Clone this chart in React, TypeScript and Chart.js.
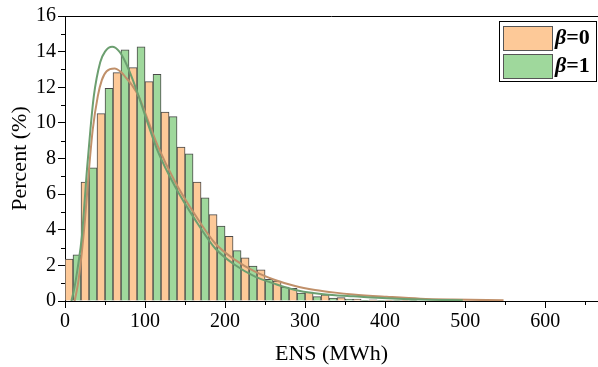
import React, { useEffect, useRef } from 'react';
import { Chart, registerables } from 'chart.js';

Chart.register(...registerables);

// Histogram bins (MWh, bin width 20) and percentages
const binCenters = [10, 30, 50, 70, 90, 110, 130, 150, 170, 190, 210, 230, 250, 270, 290, 310, 330, 350, 370, 390, 410, 430];
const beta0Percent = [2.36, 6.67, 10.52, 12.82, 13.1, 12.32, 10.6, 8.64, 6.68, 4.85, 3.63, 2.42, 1.75, 1.12, 0.71, 0.5, 0.34, 0.19, 0.11, 0.07, 0.04, 0.02];
const beta1Percent = [2.59, 7.48, 11.94, 14.1, 14.27, 12.72, 10.35, 8.26, 5.79, 4.2, 2.83, 1.96, 1.21, 0.78, 0.45, 0.25, 0.16, 0.11, 0.04, 0.02, 0.01, 0.01];

// Fitted curves
const fit0X = [12, 16, 20, 25, 30, 34.6, 41, 46, 52, 62, 70, 75, 84, 92, 104, 116, 137.5, 162.5, 187.5, 212.5, 237.5, 262.5, 287.5, 312.5, 337.5, 360, 402, 444, 485, 548];
const fit0Y = [0, 0.9, 2.3, 4.6, 7.4, 9.6, 11.5, 12.4, 12.9, 13.05, 12.85, 12.6, 12.1, 11.5, 10.1, 8.7, 6.7, 4.84, 3.24, 2.31, 1.65, 1.18, 0.84, 0.62, 0.47, 0.37, 0.24, 0.13, 0.08, 0.04];
const fit1X = [8, 12, 16, 21, 27.5, 31.7, 36, 44, 50, 59, 68, 75, 84, 92, 104, 116, 137.5, 162.5, 187.5, 212.5, 237.5, 262.5, 287.5, 312.5, 337.5, 360, 402, 444, 497];
const fit1Y = [0, 0.8, 1.9, 3.6, 7.4, 9.6, 11.5, 13.4, 14.0, 14.27, 14.0, 13.46, 12.5, 11.5, 9.9, 8.4, 6.43, 4.57, 2.96, 2.02, 1.37, 0.96, 0.62, 0.43, 0.32, 0.26, 0.15, 0.08, 0.04];

const legendLabels = ['0', '1'];
const xMinorTicks = [50, 150, 250, 350, 450, 550, 650];
const yMinorTicks = [1, 3, 5, 7, 9, 11, 13, 15];

const ORANGE_FILL = '#FDC998';
const GREEN_FILL = '#9FD89C';
const ORANGE_LINE = '#C0906A';
const GREEN_LINE = '#6C9F70';
const BAR_BORDER = '#4a4a4a';
const FONT = '"Liberation Serif", "Times New Roman", serif';

const framePlugin = {
  id: 'frame',
  afterDraw(chart: any) {
    const { ctx, chartArea } = chart;
    const xs = chart.scales.x;
    const ys = chart.scales.y;
    ctx.save();
    ctx.strokeStyle = '#000';
    ctx.lineWidth = 1;
    ctx.beginPath();
    ctx.moveTo(chartArea.left, chartArea.top + 0.5);
    ctx.lineTo(chartArea.right, chartArea.top + 0.5);
    for (const v of xMinorTicks) {
      const px = Math.round(xs.getPixelForValue(v)) + 0.5;
      ctx.moveTo(px, chartArea.bottom);
      ctx.lineTo(px, chartArea.bottom + 4);
    }
    for (const v of yMinorTicks) {
      const py = Math.round(ys.getPixelForValue(v)) + 0.5;
      ctx.moveTo(chartArea.left - 4, py);
      ctx.lineTo(chartArea.left, py);
    }
    ctx.stroke();

    // legend
    const bx = 499.5, by = 21.5, bw = 97, bh = 60;
    ctx.fillStyle = '#fff';
    ctx.fillRect(bx, by, bw, bh);
    ctx.strokeStyle = '#000';
    ctx.strokeRect(bx, by, bw, bh);
    const fills = [ORANGE_FILL, GREEN_FILL];
    for (let i = 0; i < 2; i++) {
      const sy = 26.5 + i * 28;
      ctx.fillStyle = fills[i];
      ctx.fillRect(503.5, sy, 49, 24);
      ctx.strokeStyle = '#555';
      ctx.strokeRect(503.5, sy, 49, 24);
      const ty = sy + 12;
      ctx.fillStyle = '#000';
      ctx.textBaseline = 'middle';
      ctx.textAlign = 'left';
      ctx.font = `bold italic 22px ${FONT}`;
      ctx.fillText('β', 555, ty);
      const w = ctx.measureText('β').width;
      ctx.font = `bold 22px ${FONT}`;
      ctx.fillText('=' + legendLabels[i], 555 + w, ty);
    }
    ctx.restore();
  },
};

export default function App() {
  const ref = useRef<HTMLCanvasElement>(null);
  useEffect(() => {
    const canvas = ref.current;
    if (!canvas) return;
    const tickFont = { family: FONT, size: 20 };
    const chart = new Chart(canvas, {
      type: 'bar',
      data: {
        datasets: [
          {
            type: 'line',
            label: 'fit β=1',
            data: fit1X.map((x, i) => ({ x, y: fit1Y[i] })),
            borderColor: GREEN_LINE,
            borderWidth: 2,
            pointRadius: 0,
            fill: false,
            cubicInterpolationMode: 'monotone',
            order: 0,
          } as any,
          {
            type: 'line',
            label: 'fit β=0',
            data: fit0X.map((x, i) => ({ x, y: fit0Y[i] })),
            borderColor: ORANGE_LINE,
            borderWidth: 2,
            pointRadius: 0,
            fill: false,
            cubicInterpolationMode: 'monotone',
            order: 0,
          } as any,
          {
            type: 'bar',
            label: 'β=0',
            data: binCenters.map((x, i) => ({ x, y: beta0Percent[i] })),
            backgroundColor: ORANGE_FILL,
            borderColor: BAR_BORDER,
            borderWidth: 1,
            barPercentage: 1,
            categoryPercentage: 1,
            order: 1,
          } as any,
          {
            type: 'bar',
            label: 'β=1',
            data: binCenters.map((x, i) => ({ x, y: beta1Percent[i] })),
            backgroundColor: GREEN_FILL,
            borderColor: BAR_BORDER,
            borderWidth: 1,
            barPercentage: 1,
            categoryPercentage: 1,
            order: 1,
          } as any,
        ],
      },
      options: {
        animation: false,
        responsive: false,
        maintainAspectRatio: false,
        layout: { padding: { top: 16, left: 0, right: 0, bottom: 0 } },
        plugins: { legend: { display: false }, tooltip: { enabled: false } },
        scales: {
          x: {
            type: 'linear',
            min: 0,
            max: 666,
            offset: false,
            ticks: { stepSize: 100, includeBounds: false, font: tickFont, color: '#000', padding: 2, maxRotation: 0 },
            grid: { drawOnChartArea: false, tickLength: 7, color: '#000', offset: false },
            border: { color: '#000', width: 1 },
            title: { display: true, text: 'ENS (MWh)', font: { family: FONT, size: 22 }, color: '#000', padding: { top: 0, bottom: 0 } },
            afterFit: (s: any) => { s.height = 66; },
          },
          y: {
            min: 0,
            max: 16,
            ticks: { stepSize: 2, font: tickFont, color: '#000', padding: 2 },
            grid: { drawOnChartArea: false, tickLength: 7, color: '#000' },
            border: { color: '#000', width: 1 },
            title: { display: true, text: 'Percent (%)', font: { family: FONT, size: 22 }, color: '#000', padding: { top: 7, bottom: 0 } },
            afterFit: (s: any) => { s.width = 65; },
          },
        },
      } as any,
      plugins: [framePlugin],
    });
    return () => chart.destroy();
  }, []);
  return (
    <div style={{ position: 'absolute', left: 0, top: 0, width: 598, height: 367, background: '#fff' }}>
      <canvas ref={ref} width={598} height={367} style={{ display: 'block', width: 598, height: 367 }} />
    </div>
  );
}
